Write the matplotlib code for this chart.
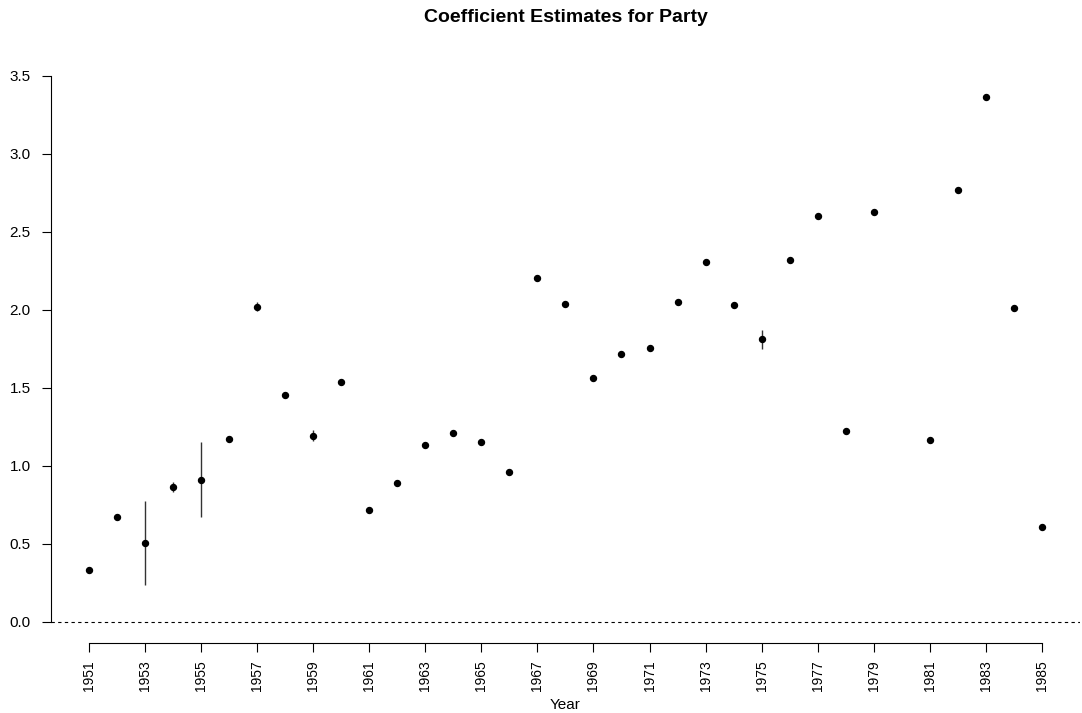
import numpy as np
import matplotlib.pyplot as plt
import matplotlib as mpl

mpl.rcParams['font.family'] = ['Liberation Sans', 'DejaVu Sans']

# ---- data (1980 has no estimate) ----
years = [1951, 1952, 1953, 1954, 1955, 1956, 1957, 1958, 1959, 1960,
         1961, 1962, 1963, 1964, 1965, 1966, 1967, 1968, 1969, 1970,
         1971, 1972, 1973, 1974, 1975, 1976, 1977, 1978, 1979,
         1981, 1982, 1983, 1984, 1985]
estimate = [0.330, 0.672, 0.507, 0.867, 0.910, 1.175, 2.020, 1.453, 1.193, 1.535,
            0.715, 0.893, 1.137, 1.214, 1.154, 0.961, 2.205, 2.036, 1.563, 1.717,
            1.753, 2.053, 2.306, 2.034, 1.811, 2.321, 2.601, 1.225, 2.629,
            1.167, 2.766, 3.367, 2.015, 0.610]
lower = [0.325, 0.667, 0.238, 0.833, 0.670, 1.170, 1.990, 1.448, 1.160, 1.530,
         0.710, 0.878, 1.132, 1.209, 1.140, 0.956, 2.200, 2.031, 1.558, 1.712,
         1.748, 2.048, 2.301, 2.029, 1.751, 2.316, 2.596, 1.212, 2.624,
         1.155, 2.761, 3.362, 2.010, 0.605]
upper = [0.335, 0.677, 0.773, 0.897, 1.150, 1.180, 2.050, 1.458, 1.230, 1.540,
         0.720, 0.908, 1.142, 1.219, 1.168, 0.966, 2.210, 2.041, 1.568, 1.722,
         1.758, 2.058, 2.311, 2.039, 1.869, 2.326, 2.606, 1.238, 2.634,
         1.179, 2.771, 3.372, 2.020, 0.615]
xticks = list(range(1951, 1986, 2))
yticks = [0.0, 0.5, 1.0, 1.5, 2.0, 2.5, 3.0, 3.5]

fig = plt.figure(figsize=(10.82, 7.13), dpi=100)
ax = fig.add_axes([0.0471, 0.0982, 0.9510, 0.7970])

yr = np.array(years)
ax.vlines(yr, lower, upper, color='#333333', lw=1.0, zorder=2)
ax.plot(yr, estimate, 'o', color='black', ms=4.3, zorder=3)
ax.axhline(0, color='black', lw=0.8, ls=(0, (3, 3)), zorder=1)

span_x = 1985 - 1951
ax.set_xlim(1951 - 0.04 * span_x, 1985 + 0.04 * span_x)
ymax = max(upper)
ax.set_ylim(0 - 0.04 * ymax, ymax + 0.04 * ymax)

for s in ['top', 'right']:
    ax.spines[s].set_visible(False)
ax.spines['left'].set_bounds(0, 3.5)
ax.spines['bottom'].set_bounds(1951, 1985)
ax.spines['left'].set_linewidth(0.8)
ax.spines['bottom'].set_linewidth(0.8)

ax.set_xticks(xticks)
ax.set_xticklabels([str(t) for t in xticks], rotation=90, fontsize=10)
ax.set_yticks(yticks)
ax.set_yticklabels([f'{t:.1f}' for t in yticks], fontsize=11)
ax.tick_params(axis='both', direction='out', length=6.5, width=0.8)
ax.tick_params(axis='x', pad=6)
ax.tick_params(axis='y', pad=8)

ax.set_xlabel('Year', fontsize=11, labelpad=5)
ax.set_title('Coefficient Estimates for Party', fontsize=14, fontweight='bold', pad=38)

fig.savefig('out.png', dpi=100)
